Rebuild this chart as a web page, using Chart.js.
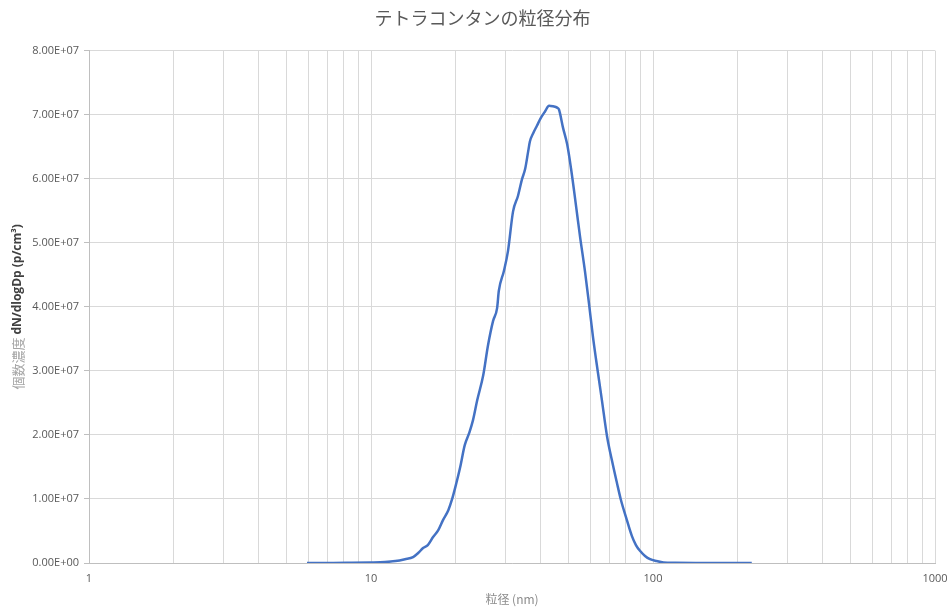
<!DOCTYPE html>
<html>
<head>
<meta charset="utf-8">
<script src="https://cdn.jsdelivr.net/npm/chart.js@4.4.0/dist/chart.umd.min.js"></script>
<style>
  html, body { margin: 0; padding: 0; background: #fff; }
  #wrap { width: 951px; height: 610px; }
</style>
</head>
<body>
<div id="wrap"><canvas id="psdChart" width="951" height="610"></canvas></div>
<script>
// particle diameter (nm) and dN/dlogDp (p/cm3)
const diameters = [5.93, 7.15, 8.43, 9.92, 11.2, 12.2, 13.2, 14.1, 14.7, 15.3, 15.9, 16.6, 17.3, 18.0, 18.8, 19.4, 19.9, 20.7, 21.5, 22.3, 23.0, 23.8, 25.0, 26.0, 27.1, 28.0, 28.4, 29.6, 30.6, 31.9, 33.2, 34.3, 35.2, 36.1, 36.6, 37.6, 38.8, 39.8, 41.4, 42.8, 44.2, 45.7, 46.4, 48.0, 49.6, 51.2, 52.5, 54.2, 55.1, 57.4, 59.3, 61.3, 63.8, 65.9, 68.7, 72.1, 74.5, 76.8, 80.8, 84.2, 87.0, 89.9, 93.7, 97.6, 103, 109, 120, 147, 180, 204, 224];
const concentrations = [0, 0, 0.03e6, 0.08e6, 0.15e6, 0.3e6, 0.6e6, 0.93e6, 1.56e6, 2.33e6, 2.8e6, 4.05e6, 5.1e6, 6.7e6, 8.25e6, 1.0e7, 1.18e7, 1.49e7, 1.84e7, 2.03e7, 2.23e7, 2.54e7, 2.93e7, 3.4e7, 3.78e7, 3.98e7, 4.25e7, 4.56e7, 4.87e7, 5.49e7, 5.73e7, 5.99e7, 6.15e7, 6.43e7, 6.58e7, 6.71e7, 6.83e7, 6.93e7, 7.05e7, 7.14e7, 7.13e7, 7.11e7, 7.08e7, 6.79e7, 6.54e7, 6.16e7, 5.81e7, 5.34e7, 5.10e7, 4.55e7, 4.05e7, 3.52e7, 2.97e7, 2.54e7, 1.98e7, 1.53e7, 1.25e7, 1.0e7, 6.7e6, 4.2e6, 2.8e6, 1.9e6, 1.1e6, 0.6e6, 0.3e6, 0.08e6, 0.03e6, 0.01e6, 0.005e6, 0.008e6, 0.003e6];

// x grid positions and which of them get a label
const xGridTicks = [1, 2, 3, 4, 5, 6, 7, 8, 9, 10, 20, 30, 40, 50, 60, 70, 80, 90, 100, 200, 300, 400, 500, 600, 700, 800, 900, 1000];
const xLabelTicks = [1, 10, 100, 1000];

const chartTitle = 'テトラコンタンの粒径分布';
const xTitle = '粒径 (nm)';
const yTitleJa = '個数濃度 ';
const yTitleUnit = 'dN/dlogDp (p/cm³)';

function sciLabel(v) {
    if (v === 0) return '0.00E+00';
    const exp = Math.floor(Math.log10(v));
    const mant = v / Math.pow(10, exp);
    return mant.toFixed(2) + 'E+' + String(exp).padStart(2, '0');
}

// y axis title with two styles (Japanese light, unit bold)
const yTitlePlugin = {
    id: 'yTitle',
    afterDraw(chart) {
        const ctx = chart.ctx;
        const area = chart.chartArea;
        const fontJa = '13px "Noto Sans CJK JP"';
        const fontUnit = 'bold 12px "Open Sans"';
        ctx.save();
        ctx.font = fontJa;
        const w1 = ctx.measureText(yTitleJa).width;
        ctx.font = fontUnit;
        const w2 = ctx.measureText(yTitleUnit).width;
        ctx.translate(18, (area.top + area.bottom) / 2);
        ctx.rotate(-Math.PI / 2);
        ctx.textBaseline = 'middle';
        ctx.textAlign = 'left';
        const start = -(w1 + w2) / 2;
        ctx.font = fontJa;
        ctx.fillStyle = '#a6a6a6';
        ctx.fillText(yTitleJa, start, 0);
        ctx.font = fontUnit;
        ctx.fillStyle = '#404040';
        ctx.fillText(yTitleUnit, start + w1, 0);
        ctx.restore();
    }
};

const points = diameters.map((d, i) => ({ x: d, y: concentrations[i] }));

const ctx = document.getElementById('psdChart').getContext('2d');
const psdChart = new Chart(ctx, {
    type: 'line',
    data: {
        datasets: [{
            label: 'dN/dlogDp',
            data: points,
            borderColor: '#4472C4',
            borderWidth: 2.5,
            pointRadius: 0,
            fill: false,
            cubicInterpolationMode: 'monotone'
        }]
    },
    options: {
        responsive: false,
        animation: false,
        layout: { padding: { left: 30, right: 16, top: 0, bottom: 0 } },
        plugins: {
            legend: { display: false },
            tooltip: { enabled: false },
            title: {
                display: true,
                text: chartTitle,
                color: '#595959',
                font: { family: '"Noto Sans CJK JP"', size: 18, weight: 'normal', lineHeight: 1.2 },
                padding: { top: 7, bottom: 22 }
            }
        },
        scales: {
            x: {
                type: 'logarithmic',
                min: 1,
                max: 1000,
                afterBuildTicks: (scale) => {
                    scale.ticks = xGridTicks.map(v => ({ value: v }));
                },
                afterFit: (scale) => {
                    scale.height = 47;
                    scale.paddingLeft = 0;
                    scale.paddingRight = 12;
                },
                grid: { color: '#d9d9d9', drawTicks: false },
                border: { color: '#bfbfbf' },
                ticks: {
                    autoSkip: false,
                    maxRotation: 0,
                    padding: 9,
                    color: '#595959',
                    font: { family: '"Open Sans"', size: 11 },
                    callback: (v) => xLabelTicks.includes(v) ? String(v) : ''
                },
                title: {
                    display: true,
                    text: xTitle,
                    color: '#8c8c8c',
                    font: { family: '"Noto Sans CJK JP"', size: 12 },
                    padding: { top: 4, bottom: 3 }
                }
            },
            y: {
                min: 0,
                max: 8e7,
                afterFit: (scale) => { scale.width = 59; },
                grid: { color: '#d9d9d9', tickLength: 5, tickColor: '#bfbfbf' },
                border: { color: '#bfbfbf' },
                ticks: {
                    stepSize: 1e7,
                    padding: 5,
                    color: '#595959',
                    font: { family: '"Open Sans"', size: 11 },
                    callback: (v) => sciLabel(v)
                }
            }
        }
    },
    plugins: [yTitlePlugin]
});
</script>
</body>
</html>
